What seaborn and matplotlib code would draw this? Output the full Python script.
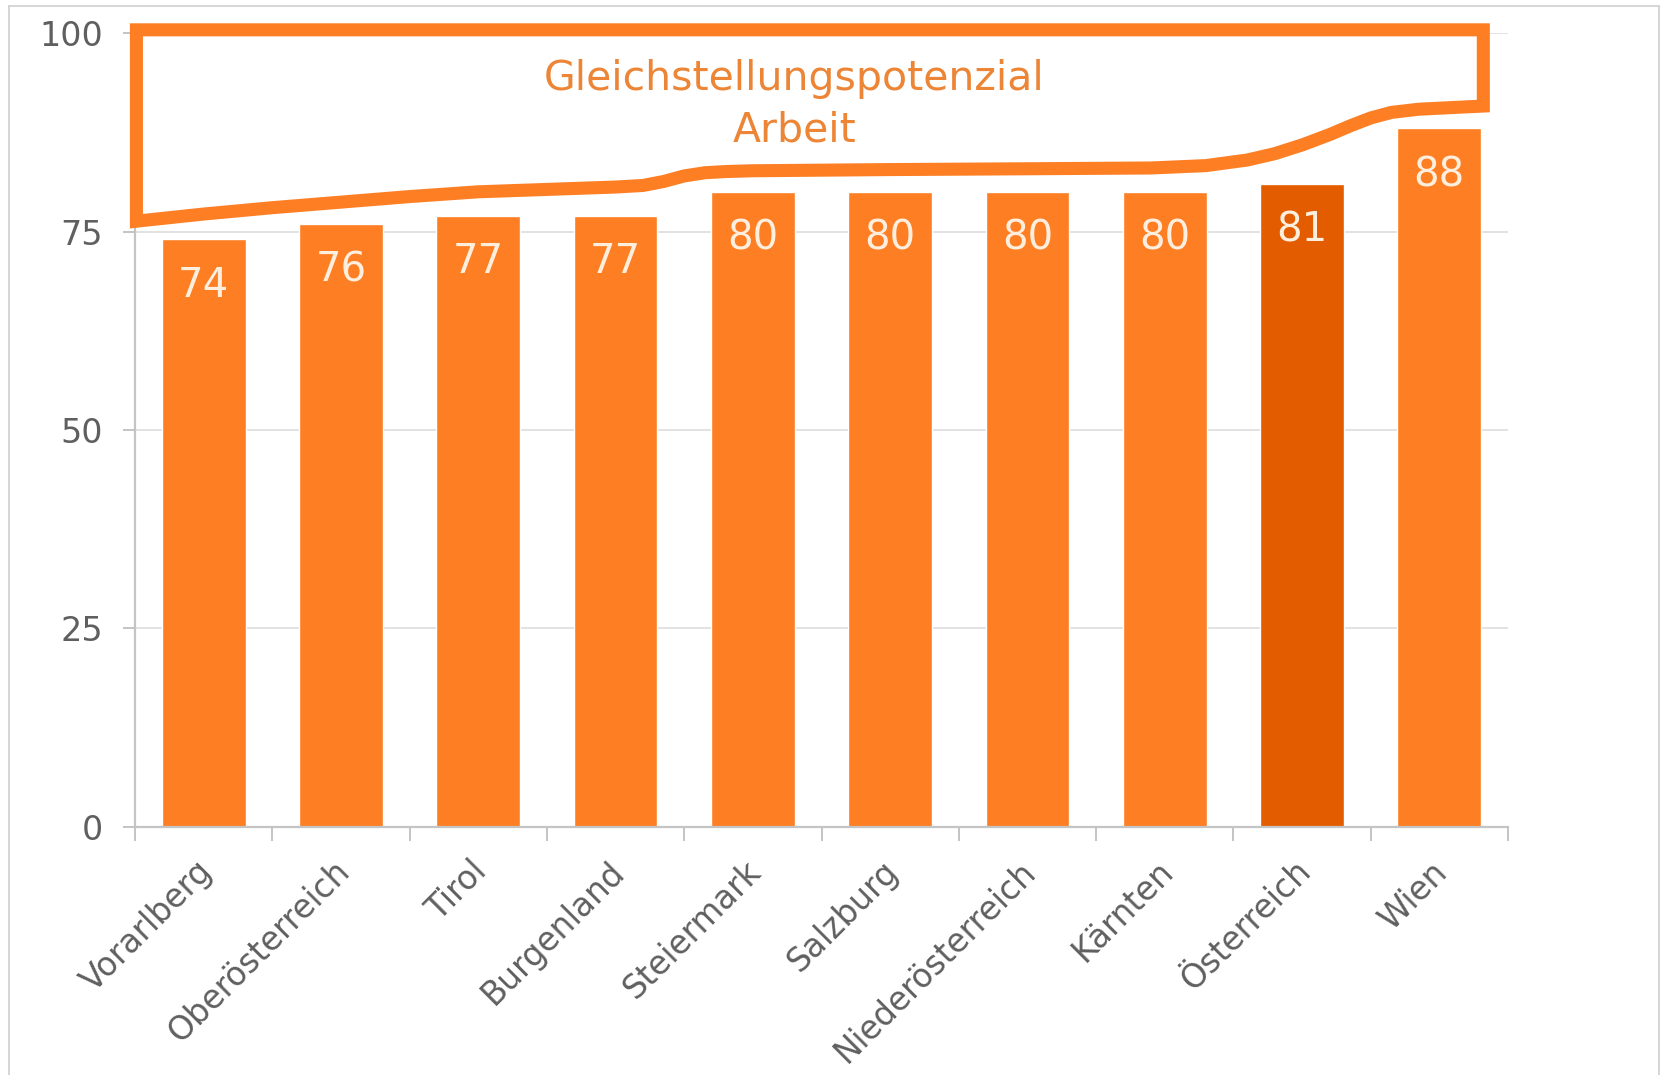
import matplotlib
matplotlib.use("Agg")
import matplotlib.pyplot as plt
from matplotlib.patches import Polygon
from matplotlib.lines import Line2D
from matplotlib.transforms import ScaledTranslation
import seaborn as sns
import pandas as pd


regions = ["Vorarlberg", "Oberösterreich", "Tirol", "Burgenland", "Steiermark",
           "Salzburg", "Niederösterreich", "Kärnten", "Österreich", "Wien"]
scores = [74, 76, 77, 77, 80, 80, 80, 80, 81, 88]
y_ticks = [0, 25, 50, 75, 100]
highlight = "Österreich"

# lower edge of the "Gleichstellungspotenzial" outline
# (x in category units, y in index points)
potential_x = [-0.49, 0.0, 0.5, 1.0, 1.5, 2.0, 2.5, 3.0, 3.2, 3.35, 3.5, 3.65,
               3.8, 4.0, 5.0, 6.0, 6.9, 7.3, 7.6, 7.8, 8.0, 8.2, 8.35, 8.5,
               8.65, 8.85, 9.08, 9.32]
potential_y = [76.3, 77.2, 78.0, 78.7, 79.4, 80.0, 80.3, 80.6, 80.8, 81.3, 82.0,
               82.4, 82.55, 82.65, 82.8, 82.9, 83.0, 83.3, 84.0, 84.8, 85.9,
               87.2, 88.3, 89.3, 90.0, 90.4, 90.6, 90.8]
potential_top = 100.4
box_label = "Gleichstellungspotenzial\nArbeit"

ORANGE = "#fd7e23"
DARK_ORANGE = "#e35c00"
GREY = "#5f5f5f"

df = pd.DataFrame({"region": regions, "score": scores})
palette = {r: (DARK_ORANGE if r == highlight else ORANGE) for r in regions}

sns.set_theme(style="white")
plt.rcParams["font.family"] = ["DejaVu Sans"]

fig = plt.figure(figsize=(16.61, 10.75), dpi=100)
ax = fig.add_axes([0.0813, 0.2307, 0.8266, 0.7386])

sns.barplot(data=df, x="region", y="score", hue="region", palette=palette,
            legend=False, width=0.61, saturation=1, ax=ax)

ax.set_ylim(0, 100)
ax.set_xlim(-0.5, len(regions) - 0.5)
ax.set_yticks(y_ticks)
ax.set_xlabel("")
ax.set_ylabel("")

for y in y_ticks[1:]:
    ax.axhline(y, color="#e2e2e2", lw=1.4, zorder=0)

for side in ["top", "right"]:
    ax.spines[side].set_visible(False)
for side in ["left", "bottom"]:
    ax.spines[side].set_color("#c4c4c4")
    ax.spines[side].set_linewidth(1.6)

ax.tick_params(axis="y", length=9, width=1.4, color="#c4c4c4",
               labelsize=24, labelcolor=GREY, pad=14, left=True)
ax.tick_params(axis="x", which="major", length=0, labelsize=23.5,
               labelcolor=GREY, pad=20)
ax.set_xticks([i - 0.5 for i in range(len(regions) + 1)], minor=True)
ax.tick_params(axis="x", which="minor", length=10, width=1.4,
               color="#c4c4c4", bottom=True)
shift = ScaledTranslation(-8 / 100, 0, fig.dpi_scale_trans)
for lbl in ax.get_xticklabels():
    lbl.set_rotation(45)
    lbl.set_ha("right")
    lbl.set_rotation_mode("anchor")
    lbl.set_transform(lbl.get_transform() + shift)

for i, v in enumerate(scores):
    ax.text(i, v - 5.9, str(v), ha="center", va="center", fontsize=29,
            color="#fdeede")

# outline box
xs = [potential_x[0], potential_x[-1]] + potential_x[::-1]
ys = [potential_top, potential_top] + potential_y[::-1]
outline = Polygon(list(zip(xs, ys)), closed=True, fill=False,
                  edgecolor=ORANGE, lw=9.4, joinstyle="miter",
                  clip_on=False, zorder=5)
ax.add_patch(outline)
ax.text(4.3, 91.0, box_label, ha="center", va="center", fontsize=29.5,
        color="#ec8536", linespacing=1.36)

# thin frame around the picture
frame_color = "#cfcfcf"
fig.add_artist(Line2D([9 / 1661, 9 / 1661], [0, 1 - 6 / 1075],
                      color=frame_color, lw=1.2))
fig.add_artist(Line2D([9 / 1661, 1659 / 1661], [1 - 6 / 1075, 1 - 6 / 1075],
                      color=frame_color, lw=1.2))
fig.add_artist(Line2D([1659 / 1661, 1659 / 1661], [0, 1 - 6 / 1075],
                      color=frame_color, lw=1.2))

fig.savefig("out.png", dpi=100, facecolor="white")
